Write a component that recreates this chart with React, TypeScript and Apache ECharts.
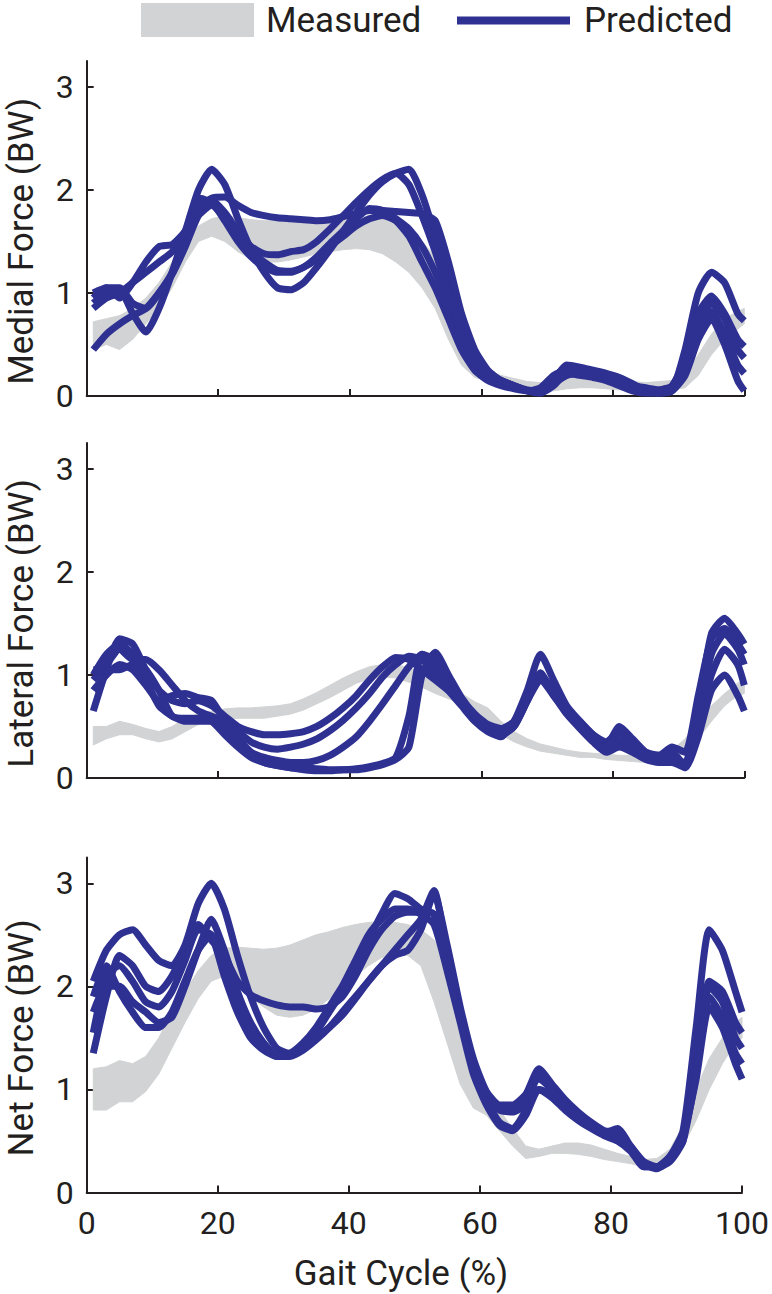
import React, { useEffect, useRef } from "react";
import * as echarts from "echarts";

// Gait cycle sample positions (%)
const X = [1, 3, 5, 7, 9, 11, 13, 15, 17, 19, 21, 23, 25, 27, 29, 31, 33, 35, 37, 39, 41, 43, 45, 47, 49, 51, 53, 55, 57, 59, 61, 63, 65, 67, 69, 71, 73, 75, 77, 79, 81, 83, 85, 87, 89, 91, 93, 95, 97, 99, 100];

const Y_TICKS = [0, 1, 2, 3];
const Y_LABELS = ["Medial Force (BW)", "Lateral Force (BW)", "Net Force (BW)"];
const X_LABEL = "Gait Cycle (%)";
const LEGEND = ["Measured", "Predicted"];

// ---- Medial ----
const medialLow = [0.45,0.5,0.45,0.55,0.7,0.85,1.05,1.3,1.5,1.55, 1.5,1.4,1.33,1.3,1.3,1.32,1.35,1.38,1.4,1.42, 1.43,1.42,1.38,1.3,1.2,1.05,0.85,0.55,0.3,0.18, 0.15,0.12,0.1,0.06,0.05,0.05,0.07,0.08,0.08,0.07, 0.06,0.05,0.05,0.05,0.06,0.08,0.2,0.4,0.55,0.65, 0.7];
const medialHigh = [0.72,0.75,0.78,0.85,0.95,1.1,1.3,1.5,1.65,1.72, 1.75,1.73,1.71,1.7,1.7,1.7,1.7,1.7,1.71,1.72, 1.73,1.75,1.75,1.7,1.62,1.5,1.35,1.05,0.65,0.35, 0.25,0.2,0.17,0.14,0.13,0.15,0.18,0.18,0.17,0.16, 0.15,0.14,0.13,0.14,0.15,0.2,0.4,0.6,0.75,0.82, 0.85];
const medial1 = [0.9,1.0,1.02,0.8,0.62,0.85,1.2,1.6,2.0,2.2, 2.05,1.72,1.42,1.2,1.05,1.03,1.1,1.25,1.42,1.6, 1.78,1.95,2.08,2.16,2.2,1.95,1.55,1.1,0.7,0.4, 0.22,0.15,0.1,0.05,0.03,0.15,0.3,0.28,0.25,0.22, 0.18,0.12,0.05,0.03,0.05,0.45,1.0,1.2,1.1,0.8, 0.73];
const medial2 = [0.95,1.05,1.05,0.9,0.85,1.0,1.2,1.55,1.92,1.88, 1.7,1.5,1.35,1.25,1.2,1.2,1.25,1.35,1.48,1.6, 1.72,1.82,1.8,1.72,1.62,1.45,1.2,0.9,0.55,0.3, 0.2,0.12,0.08,0.05,0.08,0.2,0.25,0.22,0.2,0.18, 0.15,0.1,0.08,0.06,0.1,0.35,0.8,0.97,0.8,0.55, 0.48];
const medial3 = [0.85,0.95,1.0,1.1,1.2,1.3,1.4,1.6,1.85,1.9, 1.78,1.6,1.45,1.38,1.37,1.4,1.42,1.5,1.62,1.75, 1.88,2.0,2.1,2.16,2.05,1.75,1.4,1.0,0.62,0.35, 0.22,0.15,0.1,0.06,0.05,0.18,0.28,0.25,0.23,0.2, 0.15,0.1,0.07,0.05,0.08,0.3,0.7,0.9,0.75,0.45, 0.37];
const medial4 = [0.45,0.6,0.7,0.78,0.85,1.0,1.18,1.45,1.75,1.85, 1.72,1.55,1.4,1.3,1.22,1.21,1.25,1.33,1.45,1.55, 1.65,1.72,1.75,1.7,1.55,1.3,1.05,0.75,0.45,0.25, 0.15,0.1,0.07,0.05,0.05,0.12,0.2,0.22,0.2,0.17, 0.12,0.08,0.05,0.05,0.08,0.25,0.6,0.82,0.6,0.3, 0.22];
const medial5 = [1.0,1.05,0.95,1.1,1.3,1.45,1.47,1.6,1.82,1.92, 1.93,1.85,1.78,1.75,1.73,1.72,1.71,1.7,1.71,1.74, 1.77,1.8,1.8,1.79,1.78,1.77,1.7,1.3,0.8,0.45, 0.25,0.15,0.1,0.05,0.03,0.1,0.22,0.2,0.18,0.15, 0.1,0.05,0.03,0.03,0.05,0.2,0.55,0.75,0.5,0.15, 0.05];

// ---- Lateral ----
const lateralLow = [0.32,0.38,0.42,0.42,0.38,0.35,0.38,0.45,0.52,0.55, 0.57,0.58,0.58,0.58,0.6,0.62,0.66,0.72,0.78,0.85, 0.92,0.96,0.98,0.97,0.93,0.88,0.82,0.77,0.72,0.66, 0.55,0.42,0.35,0.3,0.26,0.24,0.22,0.2,0.2,0.18, 0.17,0.16,0.15,0.15,0.18,0.25,0.38,0.55,0.7,0.8, 0.82];
const lateralHigh = [0.5,0.5,0.55,0.52,0.48,0.45,0.5,0.58,0.62,0.65, 0.67,0.68,0.68,0.69,0.7,0.72,0.77,0.83,0.9,0.97, 1.03,1.08,1.1,1.1,1.07,1.02,0.96,0.9,0.82,0.74, 0.68,0.55,0.45,0.38,0.33,0.3,0.27,0.25,0.24,0.23, 0.22,0.22,0.22,0.23,0.27,0.38,0.55,0.7,0.82,0.92, 0.95];
const lateral1 = [0.65,1.05,1.35,1.3,1.05,0.85,0.75,0.72,0.75,0.7, 0.6,0.5,0.45,0.42,0.42,0.43,0.45,0.5,0.58,0.68, 0.8,0.95,1.08,1.17,1.15,1.05,0.95,0.85,0.75,0.62, 0.5,0.42,0.5,0.75,1.0,0.85,0.68,0.55,0.42,0.35, 0.45,0.35,0.25,0.22,0.3,0.25,0.8,1.35,1.45,1.3, 1.2];
const lateral2 = [0.95,1.1,1.25,1.15,1.15,1.05,0.9,0.75,0.65,0.6, 0.55,0.45,0.35,0.3,0.28,0.3,0.33,0.38,0.46,0.56, 0.68,0.82,0.98,1.1,1.18,1.15,1.0,0.85,0.7,0.55, 0.45,0.4,0.55,0.85,1.2,0.95,0.7,0.55,0.42,0.32, 0.5,0.38,0.25,0.2,0.18,0.15,0.7,1.4,1.55,1.4, 1.3];
const lateral3 = [1.0,1.2,1.3,1.2,0.95,0.7,0.6,0.55,0.55,0.55, 0.5,0.38,0.25,0.2,0.17,0.15,0.15,0.17,0.22,0.3, 0.4,0.55,0.72,0.9,1.08,1.2,1.05,0.9,0.72,0.58, 0.48,0.42,0.5,0.75,1.02,0.8,0.65,0.52,0.4,0.3, 0.42,0.3,0.22,0.22,0.25,0.12,0.6,1.2,1.4,1.25, 1.1];
const lateral4 = [0.85,1.0,1.1,1.05,0.9,0.75,0.8,0.82,0.78,0.75, 0.55,0.35,0.22,0.15,0.12,0.1,0.1,0.09,0.08,0.08, 0.09,0.11,0.14,0.2,0.6,1.2,1.15,0.95,0.75,0.6, 0.5,0.45,0.55,0.78,1.0,0.82,0.65,0.5,0.38,0.28, 0.35,0.28,0.2,0.18,0.2,0.1,0.5,1.0,1.25,1.1, 0.9];
const lateral5 = [1.05,1.05,1.05,1.1,1.05,0.85,0.6,0.58,0.58,0.55, 0.42,0.3,0.2,0.15,0.12,0.1,0.08,0.07,0.07,0.08, 0.08,0.1,0.13,0.18,0.3,1.0,1.22,1.0,0.78,0.62, 0.52,0.48,0.55,0.75,0.95,0.8,0.62,0.48,0.35,0.25, 0.3,0.25,0.18,0.15,0.15,0.1,0.4,0.85,1.0,0.8, 0.65];

// ---- Net ----
const netLow = [0.8,0.8,0.88,0.88,0.98,1.15,1.4,1.65,1.88,2.05, 2.1,2.0,1.9,1.8,1.72,1.7,1.72,1.78,1.88,2.0, 2.1,2.2,2.28,2.3,2.3,2.2,1.85,1.45,1.05,0.82, 0.75,0.6,0.45,0.33,0.35,0.38,0.38,0.37,0.35,0.32, 0.3,0.28,0.25,0.25,0.3,0.45,0.7,1.0,1.25,1.45, 1.5];
const netHigh = [1.2,1.22,1.28,1.25,1.32,1.5,1.75,1.95,2.15,2.3, 2.37,2.38,2.37,2.36,2.37,2.4,2.45,2.5,2.53,2.57, 2.6,2.62,2.63,2.62,2.6,2.55,2.45,2.2,1.75,1.25, 0.95,0.8,0.62,0.45,0.42,0.45,0.48,0.48,0.46,0.42, 0.38,0.35,0.32,0.33,0.42,0.65,1.0,1.3,1.5,1.65, 1.7];
const net1 = [2.05,2.35,2.5,2.55,2.4,2.25,2.2,2.4,2.8,3.0, 2.75,2.3,1.9,1.6,1.4,1.35,1.4,1.55,1.75,1.95, 2.2,2.45,2.7,2.9,2.85,2.75,2.7,2.2,1.7,1.25, 0.95,0.82,0.82,0.95,1.2,1.05,0.9,0.78,0.68,0.6, 0.58,0.45,0.3,0.25,0.35,0.6,1.6,2.55,2.35,1.95, 1.75];
const net2 = [1.35,1.9,2.3,2.2,2.0,1.95,2.1,2.35,2.6,2.45, 2.3,2.05,1.92,1.86,1.82,1.8,1.8,1.78,1.8,1.9, 2.1,2.35,2.55,2.68,2.72,2.72,2.7,2.3,1.75,1.25, 0.95,0.8,0.78,0.85,1.0,0.95,0.85,0.75,0.65,0.57, 0.55,0.42,0.28,0.24,0.3,0.5,1.3,2.05,1.95,1.65, 1.55];
const net3 = [1.55,2.1,2.2,2.05,1.85,1.8,1.95,2.25,2.55,2.5, 2.1,1.75,1.5,1.38,1.32,1.33,1.4,1.5,1.6,1.72, 1.88,2.05,2.2,2.3,2.35,2.55,2.9,2.4,1.8,1.3, 0.98,0.85,0.85,0.95,1.1,1.0,0.88,0.76,0.66,0.58, 0.62,0.45,0.28,0.23,0.32,0.55,1.2,2.0,1.85,1.5, 1.4];
const net4 = [1.75,2.0,2.0,1.85,1.75,1.65,1.7,2.0,2.35,2.65, 2.35,1.95,1.65,1.45,1.32,1.32,1.38,1.48,1.6,1.75, 1.9,2.05,2.2,2.35,2.5,2.65,2.93,2.3,1.7,1.2, 0.9,0.68,0.62,0.8,1.15,0.98,0.85,0.74,0.64,0.56, 0.6,0.43,0.25,0.25,0.33,0.5,1.15,1.9,1.7,1.35, 1.25];
const net5 = [1.9,2.2,1.95,1.75,1.6,1.6,1.75,2.05,2.35,2.5, 2.2,1.85,1.6,1.45,1.33,1.35,1.45,1.6,1.8,2.0, 2.25,2.5,2.65,2.75,2.75,2.7,2.6,2.15,1.65,1.15, 0.85,0.65,0.6,0.75,1.0,0.92,0.8,0.7,0.62,0.55, 0.5,0.4,0.25,0.25,0.35,0.55,1.1,1.8,1.6,1.25, 1.1];

const BLUE = "#2e3192";
const GREY = "#d1d3d4";
const INK = "#231f20";
const FONT = "Roboto";

const GRID_LEFT = 86.7;
const GRID_WIDTH = 657.6;
const GRID_HEIGHT = 335;
const GRID_TOPS = [61, 443, 857.5];
const Y_MAX = 3.25;

function panelSeries(idx: number, low: number[], high: number[], lines: number[][]) {
  const s: any[] = [];
  s.push({
    type: "custom",
    name: "Measured",
    xAxisIndex: idx,
    yAxisIndex: idx,
    data: X.map((x, i) => [x, low[i], high[i]]),
    encode: { x: 0, y: [1, 2] },
    silent: true,
    clip: false,
    renderItem: (params: any, api: any) => {
      if (params.dataIndex !== 0) return null;
      const pts: number[][] = [];
      for (let i = 0; i < X.length; i++) pts.push(api.coord([X[i], high[i]]));
      for (let i = X.length - 1; i >= 0; i--) pts.push(api.coord([X[i], low[i]]));
      return { type: "polygon", shape: { points: pts }, style: { fill: GREY, stroke: GREY, lineWidth: 1 } };
    },
  });
  lines.forEach((l) => {
    s.push({
      type: "line",
      name: "Predicted",
      xAxisIndex: idx,
      yAxisIndex: idx,
      data: X.map((x, i) => [x, l[i]]),
      symbol: "none",
      smooth: 0.2,
      lineStyle: { color: BLUE, width: 7 },
      clip: false,
    });
  });
  return s;
}

export default function App() {
  const ref = useRef<HTMLDivElement>(null);
  useEffect(() => {
    if (!ref.current) return;
    const chart = echarts.init(ref.current, null, { renderer: "svg" });
    const unit = GRID_HEIGHT / Y_MAX;
    const grids = GRID_TOPS.map((top) => ({ left: GRID_LEFT, top, width: GRID_WIDTH, height: GRID_HEIGHT }));
    const xAxes = GRID_TOPS.map((_, i) => ({
      type: "value",
      gridIndex: i,
      min: 0,
      max: 100,
      interval: 20,
      axisLine: { show: true, lineStyle: { color: INK, width: 2 } },
      axisTick: { show: true, inside: true, length: 7, lineStyle: { color: INK, width: 2 } },
      splitLine: { show: false },
      axisLabel: {
        show: i === 2,
        color: INK,
        fontFamily: FONT,
        fontSize: 32,
        margin: 14,
      },
    }));
    const yAxes = GRID_TOPS.map((_, i) => ({
      type: "value",
      gridIndex: i,
      min: 0,
      max: Y_MAX,
      axisLine: { show: true, lineStyle: { color: INK, width: 2 } },
      axisTick: { show: true, inside: true, length: 7, lineStyle: { color: INK, width: 2 }, customValues: Y_TICKS },
      splitLine: { show: false },
      axisLabel: {
        color: INK,
        fontFamily: FONT,
        fontSize: 32,
        margin: 13,
        customValues: Y_TICKS,
      },
    }));
    const graphic: any[] = [
      { type: "rect", shape: { x: 141, y: 3, width: 113, height: 34 }, style: { fill: GREY } },
      { type: "text", x: 266, y: 20, style: { text: LEGEND[0], fill: INK, font: `35px ${FONT}`, textVerticalAlign: "middle" } },
      { type: "line", shape: { x1: 457, y1: 20.5, x2: 570, y2: 20.5 }, style: { stroke: BLUE, lineWidth: 8 } },
      { type: "text", x: 584, y: 20, style: { text: LEGEND[1], fill: INK, font: `35px ${FONT}`, textVerticalAlign: "middle" } },
      {
        type: "text",
        x: 401,
        y: 1273,
        style: { text: X_LABEL, fill: INK, font: `35px ${FONT}`, textAlign: "center", textVerticalAlign: "middle" },
      },
    ];
    Y_LABELS.forEach((t, i) => {
      graphic.push({
        type: "text",
        x: 21,
        y: GRID_TOPS[i] + GRID_HEIGHT - 1.5 * unit,
        rotation: Math.PI / 2,
        style: { text: t, fill: INK, font: `35px ${FONT}`, textAlign: "center", textVerticalAlign: "middle" },
      });
    });
    chart.setOption({
      animation: false,
      backgroundColor: "#ffffff",
      grid: grids,
      xAxis: xAxes,
      yAxis: yAxes,
      graphic,
      series: [
        ...panelSeries(0, medialLow, medialHigh, [medial1, medial2, medial3, medial4, medial5]),
        ...panelSeries(1, lateralLow, lateralHigh, [lateral1, lateral2, lateral3, lateral4, lateral5]),
        ...panelSeries(2, netLow, netHigh, [net1, net2, net3, net4, net5]),
      ],
    });
    return () => chart.dispose();
  }, []);
  return <div ref={ref} style={{ position: "absolute", left: 0, top: 0, width: 772, height: 1294 }} />;
}
